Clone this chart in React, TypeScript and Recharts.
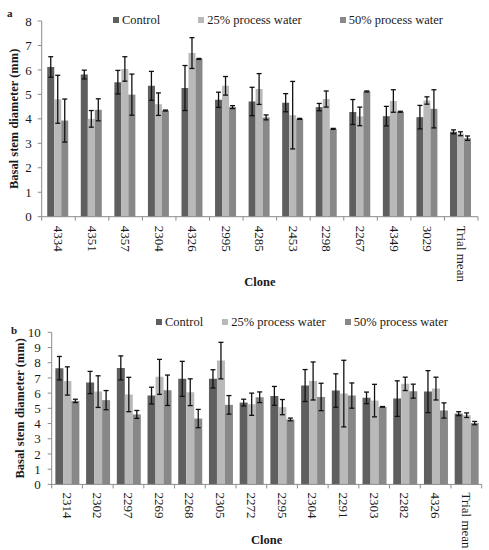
import React from 'react';
import { BarChart, Bar, XAxis, YAxis, ErrorBar } from 'recharts';

// ---------- Panel a data ----------
const clonesA = ['4334', '4351', '4357', '2304', '4326', '2995', '4285', '2453', '2298', '2267', '4349', '3029', 'Trial mean'];
const controlA = [6.12, 5.81, 5.5, 5.35, 5.26, 4.78, 4.71, 4.66, 4.48, 4.28, 4.11, 4.07, 3.47];
const water25A = [4.8, 4.0, 6.04, 4.6, 6.69, 5.35, 5.22, 4.15, 4.81, 4.1, 4.73, 4.75, 3.39];
const water50A = [3.93, 4.37, 4.99, 4.34, 6.45, 4.48, 4.06, 4.0, 3.59, 5.12, 4.29, 4.41, 3.21];
const errControlA = [0.42, 0.18, 0.48, 0.59, 0.92, 0.31, 0.58, 0.37, 0.15, 0.51, 0.4, 0.48, 0.08];
const err25A = [0.98, 0.34, 0.5, 0.46, 0.63, 0.38, 0.63, 1.38, 0.33, 0.38, 0.46, 0.15, 0.08];
const err50A = [0.88, 0.45, 0.84, 0.02, 0.02, 0.06, 0.1, 0.02, 0.02, 0.02, 0.02, 0.78, 0.09];
const yTicksA = [0, 1, 2, 3, 4, 5, 6, 7, 8];

// ---------- Panel b data ----------
const clonesB = ['2314', '2302', '2297', '2269', '2268', '2305', '2272', '2295', '2304', '2291', '2303', '2282', '4326', 'Trial mean'];
const controlB = [7.64, 6.7, 7.66, 5.84, 6.94, 6.94, 5.38, 5.82, 6.5, 6.17, 5.69, 5.64, 6.1, 4.65];
const water25B = [6.8, 6.1, 5.91, 7.07, 6.06, 8.14, 5.27, 5.08, 6.8, 5.97, 5.51, 6.61, 6.3, 4.55];
const water50B = [5.49, 5.54, 4.6, 6.19, 4.33, 5.23, 5.73, 4.27, 5.75, 5.84, 5.1, 6.13, 4.86, 4.03];
const errControlB = [0.77, 0.73, 0.79, 0.55, 1.15, 0.6, 0.22, 0.62, 1.05, 1.1, 0.38, 1.17, 1.38, 0.13];
const err25B = [0.93, 1.04, 1.13, 1.15, 0.88, 1.2, 0.73, 0.5, 1.25, 2.19, 1.07, 0.44, 0.75, 0.15];
const err50B = [0.11, 0.63, 0.26, 1.0, 0.6, 0.61, 0.35, 0.09, 0.9, 0.83, 0.02, 0.46, 0.5, 0.11];
const yTicksB = [0, 1, 2, 3, 4, 5, 6, 7, 8, 9, 10];

const seriesNames = ['Control', '25% process water', '50% process water'];
const colors = ['#5f5f5f', '#b9b9b9', '#888888'];

const FONT = '"Liberation Serif", "Times New Roman", serif';
const AXIS = '#8c8c8c';

const rowsA = clonesA.map((c, i) => ({
  clone: c, c0: controlA[i], c25: water25A[i], c50: water50A[i],
  e0: errControlA[i], e25: err25A[i], e50: err50A[i],
}));
const rowsB = clonesB.map((c, i) => ({
  clone: c, c0: controlB[i], c25: water25B[i], c50: water50B[i],
  e0: errControlB[i], e25: err25B[i], e50: err50B[i],
}));

const makeXTick = (band: number, n: number, textGap: number) => (props: any) => {
  const { x, y, payload, index } = props;
  const half = band / 2;
  return (
    <g>
      <line x1={x - half} x2={x - half} y1={y} y2={y + 4} stroke={AXIS} />
      {index === n - 1 && <line x1={x + half} x2={x + half} y1={y} y2={y + 4} stroke={AXIS} />}
      <text
        transform={`translate(${x},${y + textGap}) rotate(90)`}
        textAnchor="start"
        dominantBaseline="central"
        fontSize={13}
        fontFamily={FONT}
        fill="#1a1a1a"
      >
        {payload.value}
      </text>
    </g>
  );
};

const YTitle = (props: any) => {
  const { viewBox, cx } = props;
  const y = viewBox.y + viewBox.height / 2;
  return (
    <text
      transform={`translate(${cx},${y}) rotate(-90)`}
      textAnchor="middle"
      dominantBaseline="central"
      fontSize={12.5}
      fontWeight="bold"
      fontFamily={FONT}
      fill="#1a1a1a"
    >
      Basal stem diameter (mm)
    </text>
  );
};

const XTitle = (props: any) => {
  const { viewBox, cy } = props;
  const x = viewBox.x + viewBox.width / 2;
  return (
    <text x={x} y={cy} textAnchor="middle" dominantBaseline="central" fontSize={12.5} fontWeight="bold" fontFamily={FONT} fill="#1a1a1a">
      Clone
    </text>
  );
};

const LegendBox = ({ left, top, gap }: { left: number; top: number; gap: number }) => (
  <div style={{ position: 'absolute', left, top, display: 'flex', alignItems: 'center', gap, fontFamily: FONT, fontSize: 12.5, color: '#1a1a1a', whiteSpace: 'nowrap', lineHeight: '14px' }}>
    {seriesNames.map((s, i) => (
      <div key={s} style={{ display: 'flex', alignItems: 'center' }}>
        <span style={{ display: 'inline-block', width: 6, height: 6, background: colors[i], marginRight: 3 }} />
        <span>{s}</span>
      </div>
    ))}
  </div>
);

const PanelLetter = ({ left, top, text }: { left: number; top: number; text: string }) => (
  <div style={{ position: 'absolute', left, top, fontFamily: FONT, fontWeight: 'bold', fontSize: 11, lineHeight: '12px', color: '#1a1a1a' }}>{text}</div>
);

const renderBars = () => [
  <Bar key="c0" dataKey="c0" name={seriesNames[0]} fill={colors[0]} isAnimationActive={false}>
    <ErrorBar dataKey="e0" width={2.5} stroke="#111" strokeWidth={1.3} direction="y" />
  </Bar>,
  <Bar key="c25" dataKey="c25" name={seriesNames[1]} fill={colors[1]} isAnimationActive={false}>
    <ErrorBar dataKey="e25" width={2.5} stroke="#111" strokeWidth={1.3} direction="y" />
  </Bar>,
  <Bar key="c50" dataKey="c50" name={seriesNames[2]} fill={colors[2]} isAnimationActive={false}>
    <ErrorBar dataKey="e50" width={2.5} stroke="#111" strokeWidth={1.3} direction="y" />
  </Bar>,
];

// layout constants
const W = 489;
const A_H = 290, A_TOP = 21, A_LEFT = 41.7, A_RIGHT = 11, A_XH = 73.3;
const B_H = 260, B_TOP = 42.3, B_LEFT = 51.7, B_RIGHT = 7.3, B_XH = 65.6;
const bandA = (W - A_LEFT - A_RIGHT) / clonesA.length;
const bandB = (W - B_LEFT - B_RIGHT) / clonesB.length;

export default function App() {
  return (
    <div style={{ position: 'absolute', left: 0, top: 0, width: W, height: 550, background: '#fff', overflow: 'hidden' }}>
      <PanelLetter left={7} top={7} text="a" />
      <LegendBox left={113} top={13} gap={38} />
      <div style={{ position: 'absolute', left: 0, top: 0 }}>
        <BarChart width={W} height={A_H} data={rowsA} margin={{ top: A_TOP, right: A_RIGHT, bottom: 0, left: 0 }} barCategoryGap="16.5%" barGap={0}>
          <XAxis
            dataKey="clone"
            height={A_XH}
            interval={0}
            tickSize={0}
            tickMargin={0}
            axisLine={{ stroke: AXIS }}
            tickLine={false}
            tick={makeXTick(bandA, clonesA.length, 9)}
            label={<XTitle cy={A_H - 8} />}
          />
          <YAxis
            width={A_LEFT}
            domain={[0, 8]}
            ticks={yTicksA}
            interval={0}
            tickSize={4}
            tickMargin={6}
            axisLine={{ stroke: AXIS }}
            tickLine={{ stroke: AXIS }}
            tick={{ fontSize: 13, fill: '#1a1a1a', fontFamily: FONT }}
            label={<YTitle cx={14} />}
          />
          {renderBars()}
        </BarChart>
      </div>

      <PanelLetter left={11} top={324} text="b" />
      <LegendBox left={156} top={315} gap={19} />
      <div style={{ position: 'absolute', left: 0, top: A_H }}>
        <BarChart width={W} height={B_H} data={rowsB} margin={{ top: B_TOP, right: B_RIGHT, bottom: 0, left: 0 }} barCategoryGap="12%" barGap={0}>
          <XAxis
            dataKey="clone"
            height={B_XH}
            interval={0}
            tickSize={0}
            tickMargin={0}
            axisLine={{ stroke: AXIS }}
            tickLine={false}
            tick={makeXTick(bandB, clonesB.length, 8)}
            label={<XTitle cy={B_H - 10} />}
          />
          <YAxis
            width={B_LEFT}
            domain={[0, 10]}
            ticks={yTicksB}
            interval={0}
            tickSize={4}
            tickMargin={7}
            axisLine={{ stroke: AXIS }}
            tickLine={{ stroke: AXIS }}
            tick={{ fontSize: 13, fill: '#1a1a1a', fontFamily: FONT }}
            label={<YTitle cx={20} />}
          />
          {renderBars()}
        </BarChart>
      </div>
    </div>
  );
}
